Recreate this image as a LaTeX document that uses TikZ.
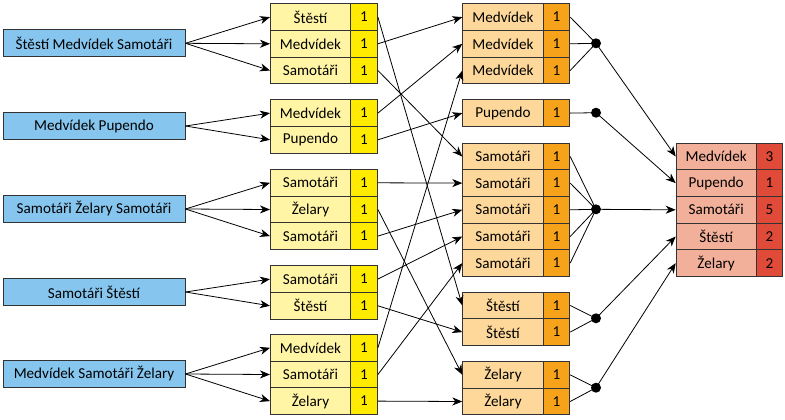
\documentclass[tikz,border=0pt]{standalone}
\usepackage{fontspec}
\setmainfont{Carlito}
\usetikzlibrary{arrows.meta}
\definecolor{blueF}{HTML}{85C5EE}
\definecolor{yelL}{HTML}{FFF5A5}
\definecolor{yelD}{HTML}{FFEB00}
\definecolor{orL}{HTML}{FDD89A}
\definecolor{orD}{HTML}{F7A21B}
\definecolor{redL}{HTML}{F2B09A}
\definecolor{redD}{HTML}{E04A38}
\definecolor{edge}{HTML}{333333}
\tikzset{
  cellbase/.style={draw=edge, line width=0.9bp, minimum height=26.7bp, inner sep=0pt,
    anchor=north west, font=\fontsize{15.2}{17}\selectfont},
  ylab/.style={cellbase, fill=yelL, minimum width=80bp},
  ynum/.style={cellbase, fill=yelD, minimum width=27bp},
  olab/.style={cellbase, fill=orL, minimum width=80.4bp},
  onum/.style={cellbase, fill=orD, minimum width=26.6bp},
  rlab/.style={cellbase, fill=redL, minimum width=80bp},
  rnum/.style={cellbase, fill=redD, minimum width=26.6bp},
  bluebox/.style={draw=edge, line width=0.9bp, fill=blueF, minimum width=182bp,
    minimum height=27bp, inner sep=0pt, font=\fontsize{15.2}{17}\selectfont},
  arr/.style={line width=0.8bp, -{Stealth[length=10bp,width=8bp,inset=3bp]}},
  plain/.style={line width=0.8bp},
  dot/.style={circle, fill=black, minimum size=10bp, inner sep=0pt},
}
\newcommand\yrow[4]{\node[ylab] (#1) at (270,#2) {#3}; \node[ynum] (#1n) at (350,#2) {#4};}
\newcommand\orow[4]{\node[olab] (#1) at (462.3,#2) {#3}; \node[onum] (#1n) at (542.7,#2) {#4};}
\newcommand\rrow[4]{\node[rlab] (#1) at (675.7,#2) {#3}; \node[rnum] (#1n) at (755.7,#2) {#4};}
\begin{document}
\begin{tikzpicture}[x=1bp,y=-1bp]
\useasboundingbox (0,0) rectangle (785,419);
% blue sources
\node[bluebox] (b1) at (94,43.3) {Štěstí Medvídek Samotáři};
\node[bluebox] (b2) at (94,126) {Medvídek Pupendo};
\node[bluebox] (b3) at (94,209) {Samotáři Želary Samotáři};
\node[bluebox] (b4) at (94,292) {Samotáři Štěstí};
\node[bluebox] (b5) at (94,374) {Medvídek Samotáři Želary};
% yellow
\yrow{y11}{3.3}{Štěstí}{1}
\yrow{y12}{30}{Medvídek}{1}
\yrow{y13}{56.7}{Samotáři}{1}
\yrow{y21}{99.3}{Medvídek}{1}
\yrow{y22}{126}{Pupendo}{1}
\yrow{y31}{169}{Samotáři}{1}
\yrow{y32}{195.7}{Želary}{1}
\yrow{y33}{222.3}{Samotáři}{1}
\yrow{y41}{265.3}{Samotáři}{1}
\yrow{y42}{292}{Štěstí}{1}
\yrow{y51}{334}{Medvídek}{1}
\yrow{y52}{360.7}{Samotáři}{1}
\yrow{y53}{387.3}{Želary}{1}
% orange
\orow{om1}{3.3}{Medvídek}{1}
\orow{om2}{30}{Medvídek}{1}
\orow{om3}{56.7}{Medvídek}{1}
\orow{op1}{99.3}{Pupendo}{1}
\orow{os1}{142.7}{Samotáři}{1}
\orow{os2}{169.3}{Samotáři}{1}
\orow{os3}{196}{Samotáři}{1}
\orow{os4}{222.7}{Samotáři}{1}
\orow{os5}{249.3}{Samotáři}{1}
\orow{ot1}{291.7}{Štěstí}{1}
\orow{ot2}{318.3}{Štěstí}{1}
\orow{oz1}{361}{Želary}{1}
\orow{oz2}{387.7}{Želary}{1}
% red
\rrow{rm}{142.7}{Medvídek}{3}
\rrow{rp}{169.3}{Pupendo}{1}
\rrow{rs}{196}{Samotáři}{5}
\rrow{rt}{222.7}{Štěstí}{2}
\rrow{rz}{249.3}{Želary}{2}
% dots
\node[dot] (dm) at (596,43.3) {};
\node[dot] (dp) at (596,112.7) {};
\node[dot] (ds) at (596,209.3) {};
\node[dot] (dt) at (596,318.3) {};
\node[dot] (dz) at (596,387.7) {};
% blue -> yellow
\foreach \s/\t in {b1/y11,b1/y12,b1/y13,b2/y21,b2/y22,b3/y31,b3/y32,b3/y33,b4/y41,b4/y42,b5/y51,b5/y52,b5/y53}
  \draw[arr] (\s.east) -- (\t.west);
% yellow -> orange
\foreach \s/\t in {y11/ot1,y12/om1,y13/os1,y21/om2,y22/op1,y31/os2,y32/oz1,y33/os3,y41/os4,y42/ot2,y51/om3,y52/os5,y53/oz2}
  \draw[arr] (\s n.east) -- (\t.west);
% orange -> dots
\foreach \s/\t in {om1/dm,om2/dm,om3/dm,op1/dp,os1/ds,os2/ds,os3/ds,os4/ds,os5/ds,ot1/dt,ot2/dt,oz1/dz,oz2/dz}
  \draw[plain] (\s n.east) -- (\t.center);
% dots -> red
\foreach \s/\t in {dm/rm,dp/rp,ds/rs,dt/rt,dz/rz}
  \draw[arr] (\s.center) -- (\t.west);
\end{tikzpicture}
\end{document}
